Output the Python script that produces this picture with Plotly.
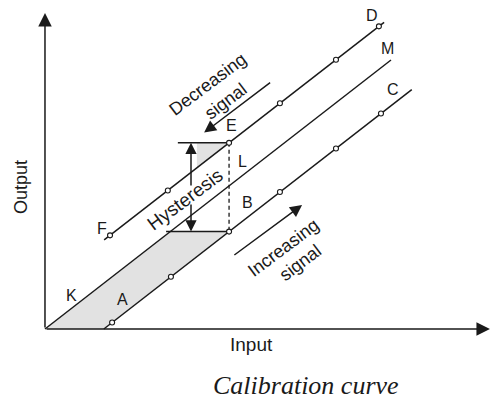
import plotly.graph_objects as go

# ---- data (diagram units: input along x, output along y) ----
# middle reference line K-L-M
mid_in = [0.0, 10.0]
mid_out = [0.0, 10.0]

# increasing-signal line A-B-C
inc_line_in = [1.7, 10.6]
inc_line_out = [0.0, 8.9]
inc_pts_in = [1.94, 3.64, 5.32, 6.79, 8.41, 9.71]
inc_pts_out = [0.24, 1.94, 3.62, 5.09, 6.71, 8.01]

# decreasing-signal line F-E-D
dec_line_in = [1.71, 9.80]
dec_line_out = [3.31, 11.40]
dec_pts_in = [1.88, 3.55, 5.32, 6.79, 8.41, 9.65]
dec_pts_out = [3.48, 5.15, 6.92, 8.39, 10.01, 11.25]

# shaded hysteresis regions
shade_low_in = [0.0, 1.7, 5.32, 3.62]
shade_low_out = [0.0, 0.0, 3.62, 3.62]
shade_top_in = [4.39, 5.32, 4.39]
shade_top_out = [6.92, 6.92, 5.99]

# hysteresis marker lines
hyst_top_in = [3.84, 5.32]
hyst_bot_in = [3.50, 5.32]
hyst_arrow_x = 4.22

# point labels
label_text = ["D", "M", "C", "E", "L", "B", "F", "K", "A"]
label_x = [9.45, 9.91, 10.06, 5.40, 5.72, 5.84, 1.65, 0.78, 2.25]
label_y = [11.67, 10.41, 8.92, 7.55, 6.21, 4.72, 3.75, 1.23, 1.08]

# axis extents
x_axis_end = 12.86
y_axis_end = 11.75

INK = "#1a1a1a"
SANS = "Liberation Sans, Arial, sans-serif"

fig = go.Figure()

# shading
fig.add_trace(go.Scatter(x=shade_low_in, y=shade_low_out, fill="toself",
                         fillcolor="#e2e2e2", line=dict(width=0), mode="lines",
                         hoverinfo="skip"))
fig.add_trace(go.Scatter(x=shade_top_in, y=shade_top_out, fill="toself",
                         fillcolor="#e2e2e2", line=dict(width=0), mode="lines",
                         hoverinfo="skip"))

line_style = dict(color=INK, width=1.5)
fig.add_trace(go.Scatter(x=mid_in, y=mid_out, mode="lines", line=line_style))
fig.add_trace(go.Scatter(x=inc_line_in, y=inc_line_out, mode="lines", line=line_style))
fig.add_trace(go.Scatter(x=dec_line_in, y=dec_line_out, mode="lines", line=line_style))

# hysteresis horizontal lines and dashed vertical
E_x, E_y = dec_pts_in[2], dec_pts_out[2]
B_x, B_y = inc_pts_in[2], inc_pts_out[2]
fig.add_trace(go.Scatter(x=hyst_top_in, y=[E_y, E_y], mode="lines", line=line_style))
fig.add_trace(go.Scatter(x=hyst_bot_in, y=[B_y, B_y], mode="lines", line=line_style))
fig.add_trace(go.Scatter(x=[E_x, B_x], y=[E_y, B_y], mode="lines",
                         line=dict(color=INK, width=1.3, dash="4px,3px")))

# markers
mk = dict(symbol="circle", size=5, color="white", line=dict(color=INK, width=1.1))
fig.add_trace(go.Scatter(x=inc_pts_in, y=inc_pts_out, mode="markers", marker=mk))
fig.add_trace(go.Scatter(x=dec_pts_in, y=dec_pts_out, mode="markers", marker=mk))

ann = []


def arrow(x, y, ax, ay, size=1.5):
    ann.append(dict(x=x, y=y, ax=ax, ay=ay, xref="x", yref="y", axref="x", ayref="y",
                    text="", showarrow=True, arrowhead=2, arrowsize=size,
                    arrowwidth=1.5, arrowcolor=INK, standoff=0, startstandoff=0))


# axes
arrow(0, y_axis_end, 0, 0, 1.8)
arrow(x_axis_end, 0, 0, 0, 1.8)
# hysteresis double arrow
arrow(hyst_arrow_x, E_y, hyst_arrow_x, 5.28, 1.5)
arrow(hyst_arrow_x, B_y, hyst_arrow_x, 4.68, 1.5)
# signal direction arrows
arrow(4.60, 7.30, 6.55, 9.20, 1.6)
arrow(7.43, 4.61, 5.43, 2.71, 1.6)


def text(t, x, y, size, angle=0, family=SANS, style="normal"):
    ann.append(dict(x=x, y=y, xref="x", yref="y", text=t, showarrow=False,
                    textangle=angle, xanchor="center", yanchor="middle",
                    font=dict(family=family, size=size, color=INK, style=style)))


for t, x, y in zip(label_text, label_x, label_y):
    text(t, x, y, 16)

text("Decreasing", 4.71, 9.11, 18, -37)
text("signal", 5.23, 8.48, 18, -37)
text("Increasing", 6.88, 3.01, 18, -37)
text("signal", 7.37, 2.45, 18, -37)
text("Hysteresis", 4.05, 4.80, 19, -37)
text("Output", -0.69, 5.28, 18, -90)
text("Input", 5.98, -0.59, 19)
text("Calibration curve", 7.54, -2.09, 26, 0, "Liberation Serif, Times New Roman, serif", "italic")

fig.update_layout(
    width=491, height=400, margin=dict(l=0, r=0, t=0, b=0),
    paper_bgcolor="white", plot_bgcolor="white", showlegend=False,
    xaxis=dict(range=[-1.30, 12.89], visible=False, fixedrange=True),
    yaxis=dict(range=[-2.64, 12.23], visible=False, fixedrange=True),
    annotations=ann,
)

fig.write_html("out.html", config={"displayModeBar": False},
               post_script="document.body.style.margin='0px';")
